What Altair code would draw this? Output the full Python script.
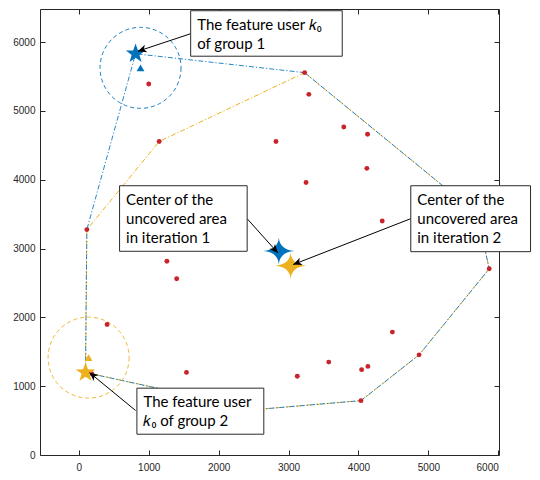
import math
import altair as alt
import pandas as pd

# ---------------- data ----------------
user_x = [1000, 1150, 115, 3230, 3290, 3790, 4130, 2820, 4120, 3250, 4340,
          1260, 1400, 405, 1540, 185, 3125, 3575, 4045, 4135, 4485, 4867,
          4036, 5870, 2532, 5698]
user_y = [5390, 4555, 3275, 5555, 5240, 4765, 4660, 4555, 4165, 3960, 3400,
          2815, 2560, 1895, 1200, 1182, 1145, 1350, 1240, 1287, 1786, 1455,
          790, 2705, 660, 3503]

hull_blue_x = [3230, 812, 115, 96, 2532, 4036, 4867, 5870, 5698, 3230]
hull_blue_y = [5555, 5830, 3275, 1198, 660, 790, 1455, 2705, 3503, 5555]
hull_orange_x = [3230, 1150, 115, 96, 2532, 4036, 4867, 5870, 5698, 3230]
hull_orange_y = [5555, 4555, 3275, 1198, 660, 790, 1455, 2705, 3503, 5555]

feature_x = [812, 96]          # feature users k0 (group 1, group 2)
feature_y = [5830, 1198]
tri_x = [883, 140]             # triangles / circle centres
tri_y = [5625, 1415]
group = ["g1", "g2"]

center_x = [2861, 3030]        # centres of uncovered area (iter 1, iter 2)
center_y = [2964, 2750]

x_ticks = [0, 1000, 2000, 3000, 4000, 5000, 6000]
y_ticks = [0, 1000, 2000, 3000, 4000, 5000, 6000]

box_texts = ["The feature user \U0001D458\u2080\nof group 1",
             "Center of the\nuncovered area\nin iteration 1",
             "Center of the\nuncovered area\nin iteration 2",
             "The feature user\n\U0001D458\u2080 of group 2"]
box_x1 = [1600, 583, 4748, 831]
box_x2 = [3768, 2408, 6461, 2646]
box_y1 = [6455, 3912, 3912, 971]
box_y2 = [5794, 2960, 2954, 302]

arrow_x1 = [1600, 2407, 4748, 812]
arrow_y1 = [6121, 3434, 3434, 647]
arrow_x2 = [845, 2847, 3066, 153]
arrow_y2 = [5866, 2936, 2767, 1197]

# ---------------- layout / styles ----------------
W, H = 459, 446
XDOM = [-555, 6010]
YDOM = [0, 6480]
kx = W / (XDOM[1] - XDOM[0])
ky = H / (YDOM[1] - YDOM[0])

BLUE = "#0072BD"
ORANGE = "#EDB120"
RED = "#C9232B"
AX = "#262626"

xs = alt.Scale(domain=XDOM, nice=False, zero=False)
ys = alt.Scale(domain=YDOM, nice=False, zero=False)


def X(axis=None):
    return alt.X("x:Q", scale=xs, axis=axis)


def Y(axis=None):
    return alt.Y("y:Q", scale=ys, axis=axis)


ax_common = dict(title=None, grid=False, domain=False, tickSize=5, offset=-5,
                 tickColor=AX, tickWidth=1, labelColor=AX, labelFontSize=10,
                 labelFont="Liberation Sans", format="d")
ax_bottom = alt.Axis(orient="bottom", values=x_ticks, labelPadding=7, **ax_common)
ax_left = alt.Axis(orient="left", values=y_ticks, labelPadding=5, **ax_common)
ax_top = alt.Axis(orient="top", values=x_ticks, labels=False, **ax_common)
ax_right = alt.Axis(orient="right", values=y_ticks, labels=False, **ax_common)

# shapes
pent = []
for i in range(10):
    a = math.radians(-90 + 36 * i)
    r = 1.0 if i % 2 == 0 else 0.4
    pent.append(f"{r*math.cos(a):.3f},{r*math.sin(a):.3f}")
PENTAGRAM = "M" + "L".join(pent) + "Z"
SPARKLE = ("M1,0Q0.07,0.07 0,0.85Q-0.07,0.07 -1,0"
           "Q-0.07,-0.07 0,-0.85Q0.07,-0.07 1,0Z")
ARROWHEAD = "M0,0L0.45,1L0,0.72L-0.45,1Z"

# ---------------- frames ----------------
hull_o = pd.DataFrame({"x": hull_orange_x, "y": hull_orange_y,
                       "i": range(len(hull_orange_x))})
hull_b = pd.DataFrame({"x": hull_blue_x, "y": hull_blue_y,
                       "i": range(len(hull_blue_x))})
users = pd.DataFrame({"x": user_x, "y": user_y})
feat = pd.DataFrame({"x": feature_x, "y": feature_y, "g": group})
tri = pd.DataFrame({"x": tri_x, "y": tri_y, "g": group})
cen = pd.DataFrame({"x": center_x, "y": center_y, "g": group})
boxes = pd.DataFrame({"x": box_x1, "x2": box_x2, "y": box_y1, "y2": box_y2,
                      "t": box_texts})
ang = []
for a, b, c, d in zip(arrow_x1, arrow_y1, arrow_x2, arrow_y2):
    u = (c - a) * kx
    v = -(d - b) * ky
    ang.append(math.degrees(math.atan2(u, -v)) % 360)
arrows = pd.DataFrame({"x": arrow_x1, "y": arrow_y1, "x2": arrow_x2,
                       "y2": arrow_y2, "ang": ang})

gcolor = alt.Color("g:N", scale=alt.Scale(domain=group, range=[BLUE, ORANGE]),
                   legend=None)

dash = [5, 2, 1.2, 2]

l_hull_o = alt.Chart(hull_o).mark_line(color=ORANGE, strokeWidth=1,
                                        strokeDash=dash).encode(
    x=X(ax_bottom), y=Y(ax_left), order="i:Q")
l_hull_b = alt.Chart(hull_b).mark_line(color=BLUE, strokeWidth=1,
                                        strokeDash=dash, opacity=0.85).encode(
    x=X(ax_top), y=Y(ax_right), order="i:Q")
l_circ = alt.Chart(tri).mark_point(shape="circle", size=6561, filled=False,
                                   strokeWidth=1, strokeDash=[4, 3],
                                   opacity=0.9).encode(
    x=X(), y=Y(), color=gcolor)
l_users = alt.Chart(users).mark_point(shape="circle", size=24, filled=True,
                                      color=RED, opacity=1).encode(x=X(), y=Y())
l_tri = alt.Chart(tri).mark_point(shape="triangle-up", size=60, filled=True,
                                  opacity=1).encode(x=X(), y=Y(), color=gcolor)
l_feat = alt.Chart(feat).mark_point(shape=PENTAGRAM, size=420, filled=True,
                                    opacity=1).encode(x=X(), y=Y(), color=gcolor)
l_cen = alt.Chart(cen).mark_point(shape=SPARKLE, size=961, filled=True,
                                  opacity=1).encode(x=X(), y=Y(), color=gcolor)
l_arrow = alt.Chart(arrows).mark_rule(color="black", strokeWidth=1).encode(
    x=X(), y=Y(), x2="x2:Q", y2="y2:Q")
l_head = alt.Chart(arrows).mark_point(shape=ARROWHEAD, size=300, filled=True,
                                      color="black", opacity=1).encode(
    x=alt.X("x2:Q", scale=xs, axis=None), y=alt.Y("y2:Q", scale=ys, axis=None),
    angle=alt.Angle("ang:Q", scale=None))
l_box = alt.Chart(boxes).mark_rect(fill="white", stroke="#2b2b2b",
                                   strokeWidth=1).encode(
    x=X(), y=Y(), x2="x2:Q", y2="y2:Q")
l_text = alt.Chart(boxes).mark_text(align="left", baseline="alphabetic",
                                    dx=6.5, dy=19, lineHeight=19, fontSize=15,
                                    font="Lato", color="black",
                                    lineBreak="\n").encode(
    x=X(), y=Y(), text="t:N")

chart = alt.layer(
    l_hull_o, l_hull_b, l_circ, l_users, l_tri, l_feat, l_cen,
    l_arrow, l_head, l_box, l_text
).resolve_axis(x="independent", y="independent").properties(
    width=W, height=H,
    padding={"left": 32, "top": 1, "right": 33, "bottom": 17},
    autosize=alt.AutoSizeParams(type="none"),
    background="white",
).configure_view(stroke=AX, strokeWidth=1)

chart.save("out.html", embed_options={"renderer": "svg", "actions": False})
